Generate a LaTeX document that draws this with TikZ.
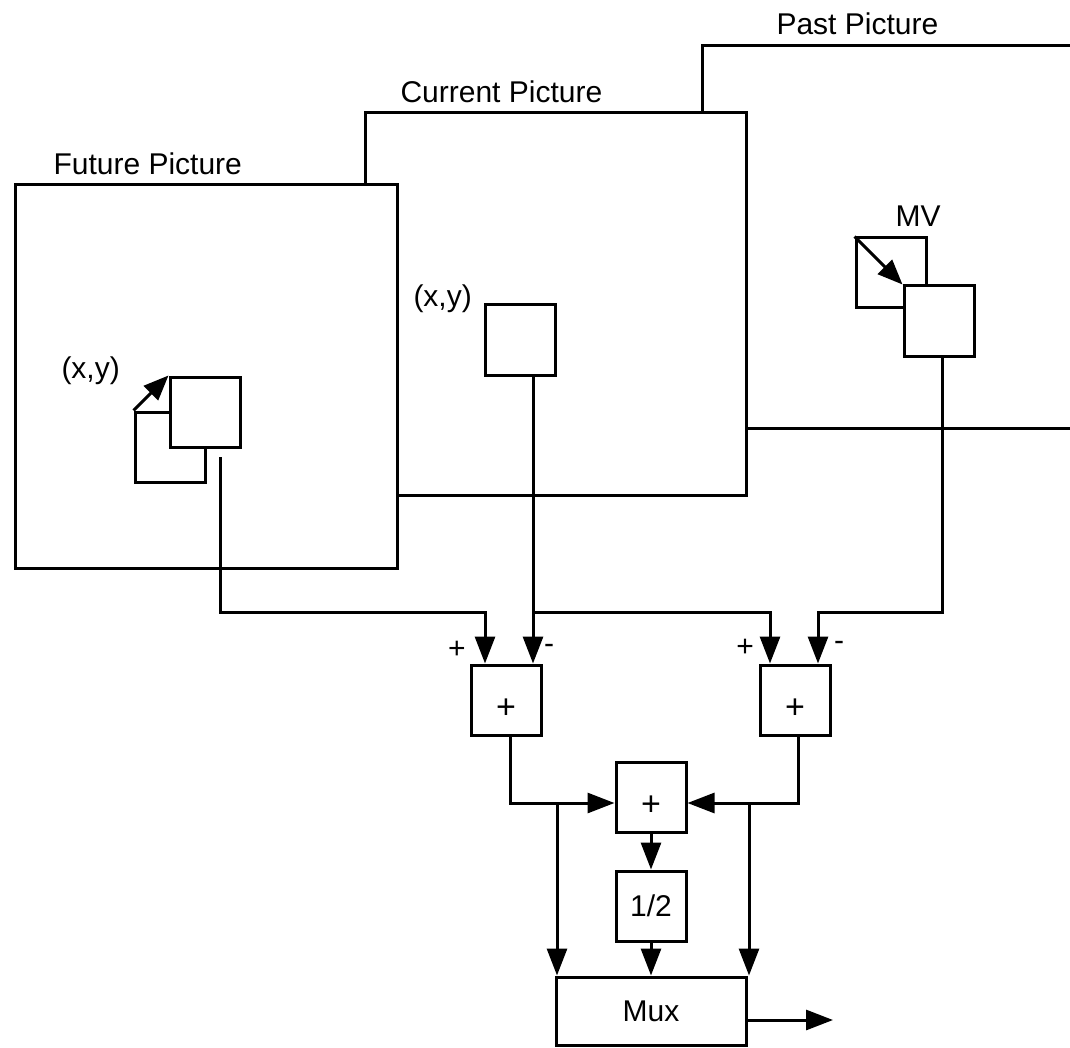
\documentclass[tikz,border=0pt]{standalone}
\usepackage{fontspec}
\setmainfont{Liberation Sans}
\usetikzlibrary{positioning,arrows.meta}

\begin{document}
\begin{tikzpicture}[x=1pt, y=-1pt, line width=3pt,
  font=\fontsize{30}{36}\selectfont, >={Triangle[length=27pt,width=20pt]},
  frame/.style={draw, fill=white, inner sep=0pt},
  blk/.style={draw, fill=white, inner sep=0pt, minimum width=70pt, minimum height=70pt},
  sumblk/.style={blk, font=\fontsize{34}{40}\selectfont, text height=36pt, text depth=0pt},
  lbl/.style={inner sep=0pt, anchor=base west},
  sign/.style={inner sep=0pt, anchor=base},
  shift arrow/.style={-{Triangle[length=25pt,width=20pt]}}]
  \useasboundingbox (0,0) rectangle (1070,1048);
  \clip (0,0) rectangle (1070,1048);

  \node[frame, minimum width=400pt, minimum height=382pt] (past) at (902,237) {};
  \node[lbl] (pastlbl) at (775,35) {Past Picture};
  \node[frame, minimum width=381pt, minimum height=382pt] (cur) at (555.5,304) {};
  \node[lbl] (curlbl) at (399,103) {Current Picture};
  \node[frame, minimum width=382pt, minimum height=383pt] (fut) at (206,376.5) {};
  \node[lbl] (futlbl) at (52,175) {Future Picture};

  \node[blk] (futB) at (170,447) {};
  \node[blk] (futA) at (205,412) {};
  \draw[shift arrow] (futB.north west) -- (futA.north west);
  \node[lbl] (futxy) at (60,378) {(x,y)};

  \node[blk] (curblk) at (520,340) {};
  \node[lbl] (curxy) at (412,307) {(x,y)};

  \node[blk] (pastB) at (891,273) {};
  \node[blk] (pastA) at (939,321) {};
  \draw[shift arrow] (pastB.north west) -- (pastA.north west);
  \node[lbl] (mv) at (894,227) {MV};

  \node[sumblk] (sumL) at (506,700) {+};
  \node[sumblk] (sumR) at (795,700) {+};
  \node[sumblk] (mid) at (651,797) {+};
  \node[blk, below=36pt of mid] (half) {1/2};
  \node[blk, minimum width=190pt, minimum height=68pt, below=33pt of half] (mux) {Mux};

  \node[sign] (pL) at (457,658) {+};
  \node[sign] (mL) at (549,653) {-};
  \node[sign] (pR) at (745,656) {+};
  \node[sign] (mR) at (839,650) {-};

  \coordinate (futout) at (220,457);
  \coordinate (jL) at (485,612);
  \coordinate (jC) at (533,612);
  \coordinate (jR1) at (770,612);
  \coordinate (jR2) at (818,612);
  \coordinate (pout) at (942,612);
  \draw[->] (futout) |- (jL) -- (jL |- sumL.north);
  \draw[->] (curblk.south -| jC) -- (jC |- sumL.north);
  \draw[->] (jC) -- (jR1) -- (jR1 |- sumR.north);
  \draw[->] (pastA.south -| pout) -- (pout) -- (jR2) -- (jR2 |- sumR.north);

  \coordinate (aL) at (510,803);
  \coordinate (aR) at (798,803);
  \coordinate (bL) at (557,803);
  \coordinate (bR) at (749,803);
  \coordinate (out) at (833,1020);
  \draw[->] (sumL.south -| aL) -- (aL) -- (aL -| mid.west);
  \draw[->] (sumR.south -| aR) -- (aR) -- (aR -| mid.east);
  \draw[->] (bL) -- (bL |- mux.north);
  \draw[->] (bR) -- (bR |- mux.north);
  \draw[->] (mid.south) -- (half.north);
  \draw[->] (half.south) -- (half.south |- mux.north);
  \draw[->] (mux.east |- out) -- (out);
\end{tikzpicture}
\end{document}
